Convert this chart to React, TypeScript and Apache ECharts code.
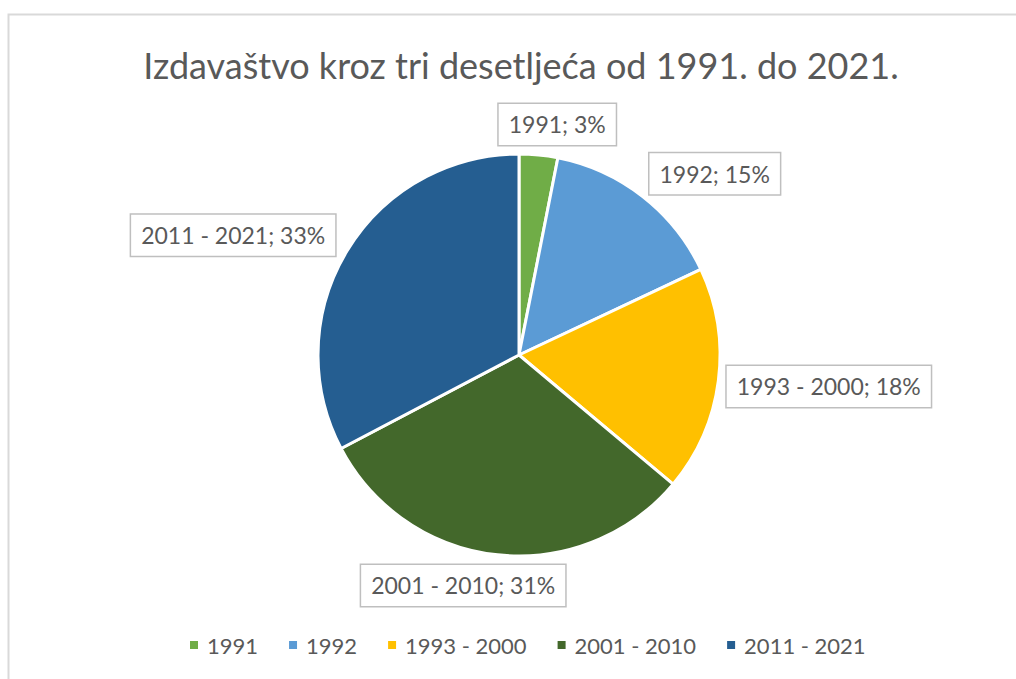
import React, { useEffect, useRef } from "react";
import * as echarts from "echarts";

const titleText = "Izdavaštvo kroz tri desetljeća od 1991. do 2021.";
const categories = ["1991", "1992", "1993 - 2000", "2001 - 2010", "2011 - 2021"];
const shares = [3.1, 14.9, 18.1, 31.2, 32.7];
const colors = ["#70AD47", "#5B9BD5", "#FFC000", "#43682B", "#255E91"];

const FONT = "Lato, 'Noto Sans', sans-serif";

export default function App() {
  const ref = useRef<HTMLDivElement>(null);
  useEffect(() => {
    document.body.style.margin = "0";
    const chart = echarts.init(ref.current!, null, { renderer: "svg" });
    chart.setOption({
      animation: false,
      backgroundColor: "#ffffff",
      color: colors,
      textStyle: { fontFamily: FONT },
      graphic: [
        {
          type: "rect",
          z: -10,
          silent: true,
          shape: { x: 8.5, y: 14.5, width: 1100, height: 800 },
          style: { fill: "#ffffff", stroke: "#D9D9D9", lineWidth: 2 },
        },
        {
          type: "text",
          x: 521,
          y: 65,
          style: {
            text: titleText,
            fontFamily: FONT,
            fontSize: 36,
            fill: "#595959",
            textAlign: "center",
            textVerticalAlign: "middle",
          },
        },
      ],
      legend: {
        data: categories,
        bottom: 18,
        left: 183,
        icon: "rect",
        itemWidth: 10,
        itemHeight: 10,
        itemGap: 29,
        textStyle: { fontFamily: FONT, fontSize: 22, color: "#595959", padding: [0, 0, 0, 3] },
      },
      series: [
        {
          type: "pie",
          center: [519, 355],
          radius: 201,
          startAngle: 90,
          clockwise: true,
          percentPrecision: 0,
          itemStyle: { borderColor: "#ffffff", borderWidth: 3 },
          label: {
            show: true,
            position: "outside",
            formatter: "{b}; {d}%",
            fontFamily: FONT,
            fontSize: 23,
            lineHeight: 26,
            color: "#595959",
            backgroundColor: "#ffffff",
            borderColor: "#BFBFBF",
            borderWidth: 1.5,
            padding: [8, 10, 7, 10],
          },
          labelLine: {
            show: true,
            length: 12,
            length2: 0,
            lineStyle: { color: "rgba(0,0,0,0)", width: 0 },
          },
          labelLayout: (params: any) => {
            const pts = params.labelLinePoints;
            if (!pts || pts.length < 2) return {};
            const p0 = pts[0];
            const p1 = pts[1];
            let ux = p1[0] - p0[0];
            let uy = p1[1] - p0[1];
            const len = Math.hypot(ux, uy) || 1;
            ux /= len;
            uy /= len;
            const w = params.labelRect.width;
            const h = params.labelRect.height;
            const fx = Math.max(-1, Math.min(1, ux * 3));
            return {
              x: p1[0] + (fx * w) / 2,
              y: p1[1] + (uy * 0.85 * h) / 2,
              align: "center",
              verticalAlign: "middle",
            };
          },
          emphasis: { disabled: true },
          data: categories.map((name, i) => ({ name, value: shares[i] })),
        },
      ],
    });
    return () => chart.dispose();
  }, []);
  return <div ref={ref} style={{ width: 1016, height: 679 }} />;
}
